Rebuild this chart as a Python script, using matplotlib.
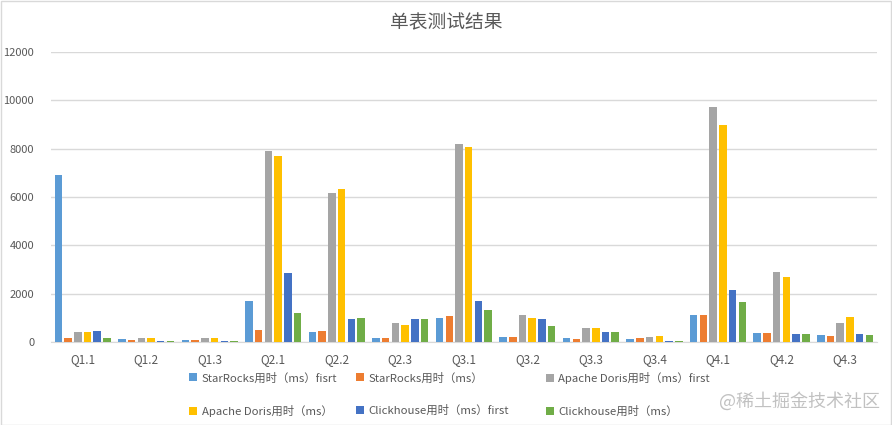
import matplotlib
matplotlib.use("Agg")
import matplotlib.pyplot as plt
import numpy as np

plt.rcParams['font.family'] = ['Noto Sans CJK SC', 'DejaVu Sans']

categories = ["Q1.1", "Q1.2", "Q1.3", "Q2.1", "Q2.2", "Q2.3", "Q3.1", "Q3.2",
              "Q3.3", "Q3.4", "Q4.1", "Q4.2", "Q4.3"]
sr_first = [6900, 110, 70, 1680, 410, 165, 990, 205, 165, 120, 1110, 370, 290]
sr = [150, 70, 70, 520, 450, 165, 1070, 205, 125, 165, 1110, 370, 250]
doris_first = [400, 190, 150, 7890, 6150, 780, 8170, 1110, 580, 205, 9710, 2880, 780]
doris = [400, 190, 190, 7680, 6310, 700, 8050, 990, 580, 250, 8970, 2675, 1030]
ch_first = [480, 30, 30, 2840, 950, 950, 1690, 950, 410, 40, 2140, 330, 330]
ch = [190, 30, 30, 1190, 990, 950, 1320, 660, 410, 40, 1650, 330, 290]

series = [sr_first, sr, doris_first, doris, ch_first, ch]
labels = ["StarRocks用时（ms）fisrt", "StarRocks用时（ms）",
          "Apache Doris用时（ms）first", "Apache Doris用时（ms）",
          "Clickhouse用时（ms）first", "Clickhouse用时（ms）"]
colors = ["#5B9BD5", "#ED7D31", "#A5A5A5", "#FFC000", "#4472C4", "#70AD47"]
yticks = [0, 2000, 4000, 6000, 8000, 10000, 12000]

fig = plt.figure(figsize=(8.92, 4.25), dpi=100)
ax = fig.add_axes([0.057, 0.195, 0.926, 0.683])

x = np.arange(len(categories))
step = 0.153
width = 0.118
handles = []
for i, (vals, lab, col) in enumerate(zip(series, labels, colors)):
    h = ax.bar(x + (i - 2.5) * step, vals, width, color=col, label=lab, zorder=3)
    handles.append(h)

ax.set_xlim(-0.5, len(categories) - 0.5)
ax.set_ylim(0, 12000)
ax.set_yticks(yticks)
ax.set_yticklabels([str(v) for v in yticks], fontsize=8, color="#595959")
ax.set_xticks(x)
ax.set_xticklabels(categories, fontsize=8.5, color="#595959")
ax.tick_params(axis='both', length=0)
ax.tick_params(axis='y', pad=12)
ax.tick_params(axis='x', pad=8)
ax.grid(axis='y', color="#D9D9D9", linewidth=1, zorder=0)
for s in ["top", "right", "left"]:
    ax.spines[s].set_visible(False)
ax.spines["bottom"].set_color("#D9D9D9")

fig.text(0.5, 0.946, "单表测试结果", ha="center", va="center", fontsize=13.5, color="#595959")

# legend laid out row-wise in three columns (each column its own legend)
col_x = [0.212, 0.399, 0.612]
for c in range(3):
    idx = [c, c + 3]
    leg = fig.legend(handles=[handles[i] for i in idx], labels=[labels[i] for i in idx],
                     ncol=1, loc="upper left", bbox_to_anchor=(col_x[c], 0.124),
                     frameon=False, fontsize=8.2,
                     handlelength=0.7, handleheight=0.7, handletextpad=0.4,
                     labelspacing=1.85, borderpad=0, borderaxespad=0)
    for t in leg.get_texts():
        t.set_color("#595959")

fig.text(0.986, 0.055, "@稀土掘金技术社区", ha="right", va="center", fontsize=13,
         color="#BBBBBB", alpha=0.9)

fig.patches.append(plt.Rectangle((0.001, 0.001), 0.998, 0.997, transform=fig.transFigure,
                                 fill=False, edgecolor="#D9D9D9", linewidth=1))

fig.savefig("out.png", dpi=100)
